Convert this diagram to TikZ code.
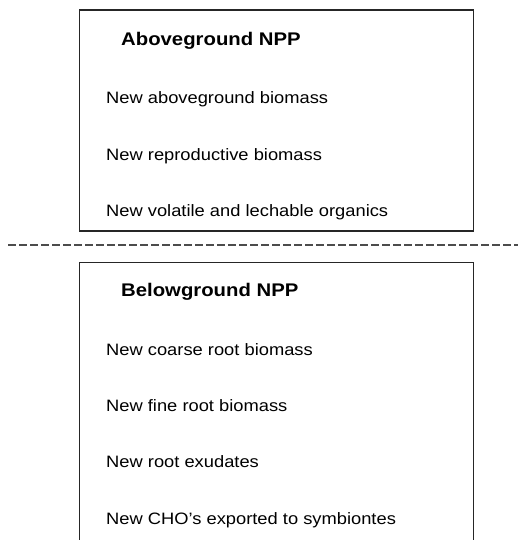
\documentclass[tikz,border=0pt]{standalone}
\usepackage{fontspec}
\setmainfont[FakeStretch=1.11]{Liberation Sans}
\begin{document}
\begin{tikzpicture}[x=1pt,y=-1pt,
  boxline/.style={line width=1.3pt,black!85},
  sepline/.style={line width=1.6pt,black!70,dash pattern=on 8pt off 3pt},
  titletext/.style={anchor=base west,inner sep=0pt,font=\fontsize{18.3}{22}\selectfont\bfseries},
  itemtext/.style={anchor=base west,inner sep=0pt,font=\fontsize{16.5}{20}\selectfont}]
\useasboundingbox (0,0) rectangle (518,540);
% top box
\draw[boxline] (79.5,10) rectangle (473.3,231);
% separator
\draw[sepline] (8,245) -- (518,245);
% bottom box (open at the bottom)
\draw[boxline] (79.5,545) -- (79.5,262.3) -- (473.3,262.3) -- (473.3,545);
% texts
\node[titletext] (ab) at (121,45.9) {Aboveground NPP};
\node[itemtext] (a1) at (106,103.4) {New aboveground biomass};
\node[itemtext] (a2) at (106,160.3) {New reproductive biomass};
\node[itemtext] (a3) at (106,216) {New volatile and lechable organics};
\node[titletext] (bg) at (121,296.7) {Belowground NPP};
\node[itemtext] (b1) at (106,355) {New coarse root biomass};
\node[itemtext] (b2) at (106,411.7) {New fine root biomass};
\node[itemtext] (b3) at (106,467.7) {New root exudates};
\node[itemtext] (b4) at (106,524.3) {New CHO’s exported to symbiontes};
\end{tikzpicture}
\end{document}
